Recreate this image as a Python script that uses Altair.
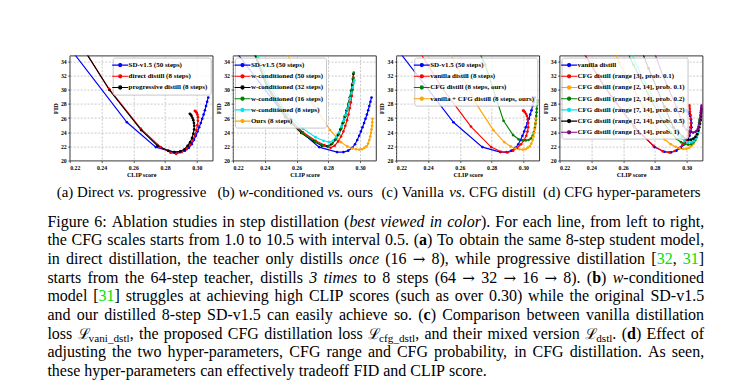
import altair as alt
import pandas as pd

FONT = "Liberation Serif"

# ---------------- data (CLIP score, FID) for CFG scales 1.0 .. 10.5 ----------------
CFG = [1.0, 1.5, 2.0, 2.5, 3.0, 3.5, 4.0, 4.5, 5.0, 5.5, 6.0, 6.5, 7.0, 7.5, 8.0, 8.5, 9.0, 9.5, 10.0, 10.5]
XTICKS = [0.22, 0.24, 0.26, 0.28, 0.30]
YTICKS = [20, 22, 24, 26, 28, 30, 32, 34]

SD15_CLIP = [0.190, 0.222, 0.2560, 0.2742, 0.2855, 0.2895, 0.2925, 0.2950, 0.2968, 0.2982, 0.2994, 0.3005, 0.3015, 0.3025, 0.3034, 0.3043, 0.3051, 0.3058, 0.3065, 0.3072]
SD15_FID = [48.0, 35.3, 25.4, 21.9, 21.2, 21.2, 21.4, 21.8, 22.3, 22.9, 23.5, 24.1, 24.7, 25.3, 25.9, 26.5, 27.1, 27.7, 28.3, 28.9]

DIRECT_CLIP = [0.2150, 0.2448, 0.2647, 0.2773, 0.2835, 0.2870, 0.2905, 0.2935, 0.2958, 0.2975, 0.2988, 0.2998, 0.3004, 0.3007, 0.3007, 0.3004, 0.3000, 0.2996, 0.2992, 0.2988]
DIRECT_FID = [40.5, 30.1, 24.5, 21.9, 21.1, 20.95, 21.2, 21.6, 22.2, 22.9, 23.6, 24.3, 25.0, 25.6, 26.1, 26.45, 26.7, 26.85, 26.95, 27.0]

PROG_CLIP = [0.2155, 0.2450, 0.2650, 0.2753, 0.2820, 0.2860, 0.2895, 0.2922, 0.2942, 0.2958, 0.2970, 0.2978, 0.2983, 0.2984, 0.2982, 0.2978, 0.2973, 0.2967, 0.2961, 0.2956]
PROG_FID = [40.5, 29.95, 24.3, 22.1, 21.4, 21.2, 21.3, 21.6, 22.1, 22.6, 23.2, 23.8, 24.4, 24.9, 25.3, 25.7, 26.0, 26.3, 26.5, 26.6]

W50_CLIP = [0.2250, 0.2420, 0.2534, 0.2640, 0.2720, 0.2775, 0.2815, 0.2840, 0.2862, 0.2880, 0.2895, 0.2907, 0.2918, 0.2927, 0.2935, 0.2942, 0.2948, 0.2953, 0.2956, 0.2958]
W50_FID = [40.0, 30.5, 26.3, 24.0, 22.8, 22.2, 21.8, 22.1, 22.7, 23.4, 24.1, 24.9, 25.7, 26.5, 27.4, 28.2, 29.1, 30.0, 30.9, 31.7]

W32_CLIP = [0.2250, 0.2415, 0.2530, 0.2630, 0.2710, 0.2760, 0.2795, 0.2820, 0.2842, 0.2860, 0.2876, 0.2890, 0.2903, 0.2915, 0.2926, 0.2935, 0.2943, 0.2950, 0.2955, 0.2958]
W32_FID = [40.0, 30.3, 26.1, 23.9, 22.7, 22.1, 22.0, 22.3, 22.9, 23.6, 24.4, 25.3, 26.2, 27.1, 28.0, 28.9, 29.8, 30.7, 31.5, 32.2]

W16_CLIP = [0.2260, 0.2420, 0.2535, 0.2635, 0.2715, 0.2765, 0.2800, 0.2825, 0.2848, 0.2866, 0.2882, 0.2896, 0.2909, 0.2920, 0.2930, 0.2939, 0.2946, 0.2952, 0.2956, 0.2960]
W16_FID = [40.0, 30.2, 26.0, 23.9, 22.7, 22.15, 22.05, 22.4, 23.0, 23.7, 24.5, 25.4, 26.3, 27.2, 28.1, 29.0, 29.9, 30.8, 31.6, 32.4]

W8_CLIP = [0.2260, 0.2425, 0.2540, 0.2640, 0.2720, 0.2770, 0.2805, 0.2830, 0.2850, 0.2867, 0.2882, 0.2896, 0.2908, 0.2919, 0.2929, 0.2938, 0.2946, 0.2953, 0.2959, 0.2964]
W8_FID = [40.5, 30.8, 26.6, 24.5, 23.3, 22.8, 22.6, 22.8, 23.3, 24.0, 24.8, 25.6, 26.4, 27.2, 28.0, 28.8, 29.6, 30.3, 30.9, 31.3]

OURS_CLIP = [0.2320, 0.2530, 0.2697, 0.2811, 0.2880, 0.2920, 0.2950, 0.2975, 0.2995, 0.3012, 0.3027, 0.3040, 0.3050, 0.3058, 0.3064, 0.3068, 0.3072, 0.3075, 0.3077, 0.3078]
OURS_FID = [45.0, 35.5, 28.2, 24.3, 22.6, 22.0, 21.7, 21.6, 21.55, 21.6, 21.8, 22.0, 22.4, 22.9, 23.4, 23.9, 24.4, 24.9, 25.4, 25.9]

VAN_CLIP = [0.2220, 0.2480, 0.2670, 0.2797, 0.2860, 0.2900, 0.2935, 0.2962, 0.2985, 0.3005, 0.3018, 0.3026, 0.3030, 0.3030, 0.3027, 0.3022, 0.3016, 0.3009, 0.3003, 0.2998]
VAN_FID = [40.0, 30.5, 24.8, 21.9, 21.25, 21.15, 21.4, 21.8, 22.3, 22.9, 23.5, 24.1, 24.7, 25.3, 25.8, 26.3, 26.6, 26.85, 27.0, 27.05]

CFGD_CLIP = [0.2620, 0.2760, 0.2875, 0.2935, 0.2970, 0.2995, 0.3015, 0.3032, 0.3047, 0.3058, 0.3066, 0.3072, 0.3076, 0.3079, 0.3081, 0.3083, 0.3084, 0.3085, 0.3086, 0.3087]
CFGD_FID = [40.0, 33.5, 25.6, 23.6, 23.0, 22.85, 22.85, 22.9, 23.1, 23.5, 24.0, 24.6, 25.2, 25.8, 26.3, 26.8, 27.3, 27.8, 28.2, 28.5]

D_R3_CLIP = [0.2220, 0.2480, 0.2670, 0.2791, 0.2850, 0.2890, 0.2925, 0.2952, 0.2975, 0.2993, 0.3007, 0.3017, 0.3023, 0.3026, 0.3026, 0.3024, 0.3021, 0.3019, 0.3017, 0.3016]
D_R3_FID = [40.0, 30.5, 24.7, 22.1, 21.3, 21.15, 21.35, 21.75, 22.3, 22.9, 23.5, 24.1, 24.7, 25.3, 25.9, 26.4, 26.9, 27.3, 27.6, 27.8]

D_A01_CLIP = [0.2400, 0.2575, 0.2728, 0.2812, 0.2860, 0.2900, 0.2930, 0.2955, 0.2978, 0.2998, 0.3015, 0.3030, 0.3042, 0.3053, 0.3062, 0.3068, 0.3074, 0.3078, 0.3081, 0.3083]
D_A01_FID = [43.0, 33.8, 27.5, 24.5, 23.0, 22.3, 21.95, 21.75, 21.65, 21.65, 21.8, 22.05, 22.35, 22.75, 23.2, 23.7, 24.2, 24.7, 25.1, 25.5]

D_A02_CLIP = [0.2460, 0.2665, 0.2775, 0.2853, 0.2900, 0.2937, 0.2965, 0.2990, 0.3010, 0.3028, 0.3042, 0.3054, 0.3063, 0.3069, 0.3073, 0.3076, 0.3078, 0.3079, 0.3080, 0.3081]
D_A02_FID = [43.0, 33.5, 28.6, 25.4, 24.0, 23.05, 22.6, 22.35, 22.25, 22.3, 22.55, 22.9, 23.35, 23.8, 24.3, 24.75, 25.1, 25.4, 25.6, 25.8]

D_B02_CLIP = [0.2480, 0.2690, 0.2800, 0.2885, 0.2925, 0.2958, 0.2985, 0.3010, 0.3030, 0.3045, 0.3057, 0.3066, 0.3072, 0.3077, 0.3080, 0.3083, 0.3085, 0.3086, 0.3087, 0.3088]
D_B02_FID = [44.0, 33.2, 28.3, 25.2, 24.2, 23.3, 22.85, 22.6, 22.6, 22.75, 23.1, 23.5, 24.0, 24.6, 25.1, 25.6, 26.0, 26.35, 26.6, 26.8]

D_A05_CLIP = [0.2550, 0.2760, 0.2860, 0.2916, 0.2950, 0.2975, 0.2995, 0.3012, 0.3028, 0.3042, 0.3055, 0.3065, 0.3073, 0.3079, 0.3084, 0.3088, 0.3090, 0.3092, 0.3093, 0.3094]
D_A05_FID = [45.0, 33.0, 27.6, 24.7, 23.9, 23.4, 23.05, 22.95, 22.95, 23.1, 23.35, 23.7, 24.2, 24.7, 25.2, 25.7, 26.2, 26.7, 27.0, 27.3]

D_C1_CLIP = [0.2620, 0.2850, 0.2937, 0.2979, 0.3000, 0.3021, 0.3040, 0.3055, 0.3063, 0.3070, 0.3075, 0.3079, 0.3083, 0.3086, 0.3088, 0.3090, 0.3091, 0.3092, 0.3093, 0.3094]
D_C1_FID = [46.0, 32.0, 27.5, 24.9, 24.3, 24.0, 23.95, 24.05, 24.2, 24.45, 24.8, 25.2, 25.6, 26.0, 26.4, 26.8, 27.1, 27.35, 27.55, 27.75]

BLUE, RED, BLACK, GREEN, CYAN, ORANGE, PURPLE = "#0000ff", "#ff0000", "#000000", "#008000", "#00e5ee", "#ffa500", "#800080"

PANEL_A = [
    ("SD-v1.5 (50 steps)", BLUE, SD15_CLIP, SD15_FID),
    ("direct distill (8 steps)", RED, DIRECT_CLIP, DIRECT_FID),
    ("progressive distill (8 steps)", BLACK, PROG_CLIP, PROG_FID),
]
PANEL_B = [
    ("SD-v1.5 (50 steps)", BLUE, SD15_CLIP, SD15_FID),
    ("w-conditioned (50 steps)", RED, W50_CLIP, W50_FID),
    ("w-conditioned (32 steps)", BLACK, W32_CLIP, W32_FID),
    ("w-conditioned (16 steps)", GREEN, W16_CLIP, W16_FID),
    ("w-conditioned (8 steps)", CYAN, W8_CLIP, W8_FID),
    ("Ours (8 steps)", ORANGE, OURS_CLIP, OURS_FID),
]
PANEL_C = [
    ("SD-v1.5 (50 steps)", BLUE, SD15_CLIP, SD15_FID),
    ("vanilla distill (8 steps)", RED, VAN_CLIP, VAN_FID),
    ("CFG distill (8 steps, ours)", GREEN, CFGD_CLIP, CFGD_FID),
    ("vanilla + CFG distill (8 steps, ours)", ORANGE, OURS_CLIP, OURS_FID),
]
PANEL_D = [
    ("vanilla distill", BLUE, VAN_CLIP, VAN_FID),
    ("CFG distill (range [3], prob. 0.1)", RED, D_R3_CLIP, D_R3_FID),
    ("CFG distill (range [2, 14], prob. 0.1)", ORANGE, D_A01_CLIP, D_A01_FID),
    ("CFG distill (range [2, 14], prob. 0.2)", GREEN, D_A02_CLIP, D_A02_FID),
    ("CFG distill (range [7, 14], prob. 0.2)", CYAN, D_B02_CLIP, D_B02_FID),
    ("CFG distill (range [2, 14], prob. 0.5)", BLACK, D_A05_CLIP, D_A05_FID),
    ("CFG distill (range [3, 14], prob. 1)", PURPLE, D_C1_CLIP, D_C1_FID),
]

SUBCAPTIONS = [
    [("(a) Direct ", "R"), ("vs.", "I"), (" progressive", "R")],
    [("(b) ", "R"), ("w", "I"), ("-conditioned ", "R"), ("vs.", "I"), (" ours", "R")],
    [("(c) Vanilla ", "R"), ("vs.", "I"), (" CFG distill", "R")],
    [("(d) CFG hyper-parameters", "R")],
]

ARROW = "\u2192"
PARAGRAPH = [
    [("Figure 6: Ablation studies in step distillation (", "r"), ("best viewed in color", "i"), ("). For each line, from left to right,", "r")],
    [("the CFG scales starts from 1.0 to 10.5 with interval 0.5. (", "r"), ("a", "b"), (") To obtain the same 8-step student model,", "r")],
    [("in direct distillation, the teacher only distills ", "r"), ("once", "i"), (" (16 ", "r"), (ARROW, "m"), (" 8), while progressive distillation [", "r"),
     ("32", "g"), (", ", "r"), ("31", "g"), ("]", "r")],
    [("starts from the 64-step teacher, distills ", "r"), ("3 times", "i"), (" to 8 steps (64 ", "r"), (ARROW, "m"), (" 32 ", "r"), (ARROW, "m"),
     (" 16 ", "r"), (ARROW, "m"), (" 8). (", "r"), ("b", "b"), (") ", "r"), ("w", "i"), ("-conditioned", "r")],
    [("model [", "r"), ("31", "g"), ("] struggles at achieving high CLIP scores (such as over 0.30) while the original SD-v1.5", "r")],
    [("and our distilled 8-step SD-v1.5 can easily achieve so. (", "r"), ("c", "b"), (") Comparison between vanilla distillation", "r")],
    [("loss ", "r"), ("\u2112", "m"), ("vani_dstl", "s"), (", the proposed CFG distillation loss ", "r"), ("\u2112", "m"), ("cfg_dstl", "s"),
     (", and their mixed version ", "r"), ("\u2112", "m"), ("dstl", "s"), (". (", "r"), ("d", "b"), (") Effect of", "r")],
    [("adjusting the two hyper-parameters, CFG range and CFG probability, in CFG distillation. As seen,", "r")],
    [("these hyper-parameters can effectively tradeoff FID and CLIP score.", "r")],
]

# ---------------- text typesetting helpers (Times metrics, 1/1000 em) ----------------
REG = {" ": 250, "!": 333, "(": 333, ")": 333, ",": 250, "-": 333, ".": 250, "/": 278, ":": 278, ";": 278,
       "[": 333, "]": 333, "_": 500, "+": 564,
       "A": 722, "B": 667, "C": 667, "D": 722, "E": 611, "F": 556, "G": 722, "H": 722, "I": 333, "J": 389,
       "K": 722, "L": 611, "M": 889, "N": 722, "O": 722, "P": 556, "Q": 722, "R": 667, "S": 556, "T": 611,
       "U": 722, "V": 722, "W": 944, "X": 722, "Y": 722, "Z": 611,
       "a": 444, "b": 500, "c": 444, "d": 500, "e": 444, "f": 333, "g": 500, "h": 500, "i": 278, "j": 278,
       "k": 500, "l": 278, "m": 778, "n": 500, "o": 500, "p": 500, "q": 500, "r": 333, "s": 389, "t": 278,
       "u": 500, "v": 500, "w": 722, "x": 500, "y": 500, "z": 444}
ITAL = dict(REG)
ITAL.update({"a": 500, "f": 278, "k": 444, "m": 722, "r": 389, "v": 444, "w": 667, "x": 444, "y": 444, "z": 389})
BOLD = dict(REG)
BOLD.update({"a": 500, "b": 556, "c": 444, "d": 556})

P_SIZE, SUB_SIZE, SC_SIZE, M_SIZE = 16, 11.2, 14.9, 15
SUB_DY = 3.5
TEXT_X0, TEXT_W = -22.3, 656.8          # paragraph left edge / width, relative to panel (a)
PARA_Y0, PARA_DY = 171.0, 18.7          # first baseline / line pitch, relative to panel (a) top
SC_Y = 141.7
SC_CENTERS = [61.9, 225.5, 388.9, 552.4]


def piece_width(t, st):
    if st == "m":
        return (0.838 * M_SIZE) if t == ARROW else 0.69 * P_SIZE
    if st in ("R", "I"):
        size = SC_SIZE
    elif st == "s":
        size = SUB_SIZE
    else:
        size = P_SIZE
    tab = ITAL if st in ("i", "I") else (BOLD if st == "b" else REG)
    return sum(tab.get(ch, 500) for ch in t) / 1000.0 * size


def split_words(segs):
    words = [[]]
    for text, st in segs:
        parts = text.split(" ")
        for k, p in enumerate(parts):
            if k > 0:
                words.append([])
            if p:
                words[-1].append((p, st))
    return [w for w in words if w]


def place(segs, x0, y, width=None, center=None, size=P_SIZE):
    ws = split_words(segs)
    wds = [sum(piece_width(t, s) for t, s in w) for w in ws]
    if width is not None and len(ws) > 1:
        gap = (width - sum(wds)) / (len(ws) - 1)
    else:
        gap = 0.25 * size
    if center is not None:
        x0 = center - (sum(wds) + gap * (len(ws) - 1)) / 2.0
    rows, x = [], x0
    for w, wd in zip(ws, wds):
        px = x
        for t, s in w:
            rows.append({"x": px, "y": y + (SUB_DY if s == "s" else 0.0), "text": t, "style": s})
            px += piece_width(t, s)
        x += wd + gap
    return rows


text_rows = []
for i, segs in enumerate(SUBCAPTIONS):
    text_rows += place(segs, 0, SC_Y, center=SC_CENTERS[i], size=SC_SIZE)
for i, segs in enumerate(PARAGRAPH):
    last = i == len(PARAGRAPH) - 1
    text_rows += place(segs, TEXT_X0, PARA_Y0 + i * PARA_DY, width=None if last else TEXT_W)
TEXT_DF = pd.DataFrame(text_rows)

STYLE_PROPS = {
    "r": dict(fontSize=P_SIZE),
    "i": dict(fontSize=P_SIZE, fontStyle="italic"),
    "b": dict(fontSize=P_SIZE, fontWeight="bold"),
    "g": dict(fontSize=P_SIZE, color="#00dd00"),
    "s": dict(fontSize=SUB_SIZE),
    "m": dict(fontSize=M_SIZE, font="DejaVu Serif"),
    "R": dict(fontSize=SC_SIZE),
    "I": dict(fontSize=SC_SIZE, fontStyle="italic"),
}

PW, PH = 143, 105


def text_layers():
    layers = []
    for st, props in STYLE_PROPS.items():
        sub = TEXT_DF[TEXT_DF["style"] == st]
        if sub.empty:
            continue
        kw = dict(align="left", baseline="alphabetic", font=FONT, color="black")
        kw.update(props)
        layers.append(
            alt.Chart(sub).mark_text(**kw).encode(
                x=alt.X("x:Q", scale=alt.Scale(domain=[0, PW], nice=False, zero=False), axis=None),
                y=alt.Y("y:Q", scale=alt.Scale(domain=[0, PH], reverse=True, nice=False, zero=False), axis=None),
                text="text:N",
            )
        )
    return layers


LEGEND_SYMBOL = "M-2,0H2M0.4,0A0.4,0.4,0,1,1,-0.4,0A0.4,0.4,0,1,1,0.4,0"

AXIS_STYLE = dict(
    labelFont=FONT, labelFontSize=5.8, labelFontWeight="bold", labelColor="black",
    titleFont=FONT, titleFontSize=6.2, titleFontWeight="bold", titleColor="black",
    tickSize=2, tickColor="black", tickWidth=0.6,
    labelPadding=1.5, titlePadding=2, domain=False, gridColor="#a8a8a8", gridDash=[2, 1.5],
    gridWidth=0.6, gridOpacity=1,
)


def panel(series, orient):
    rows = []
    for name, _c, xs, ys in series:
        for c, x, y in zip(CFG, xs, ys):
            rows.append({"series": name, "cfg": c, "clip": x, "fid": y})
    df = pd.DataFrame(rows)
    names = [s[0] for s in series]
    colors = [s[1] for s in series]
    xenc = alt.X("clip:Q", scale=alt.Scale(domain=[0.22, 0.31], nice=False, zero=False),
                 axis=alt.Axis(values=XTICKS, format=".2f", title="CLIP score", **AXIS_STYLE))
    yenc = alt.Y("fid:Q", scale=alt.Scale(domain=[20, 34.8], nice=False, zero=False),
                 axis=alt.Axis(values=YTICKS, title="FID", **AXIS_STYLE))
    legend = alt.Legend(
        title=None, orient=orient, offset=2, fillColor="rgba(255,255,255,0.82)", strokeColor="#c8c8c8",
        cornerRadius=2, padding=2.5, labelFont=FONT, labelFontSize=7, labelFontWeight="bold",
        labelColor="black", labelLimit=300,
        symbolType=LEGEND_SYMBOL, symbolSize=64, symbolStrokeWidth=1.1, labelOffset=3.4, rowPadding=2.2,
    )
    line = alt.Chart(df).mark_line(clip=True, strokeWidth=1.15).encode(
        x=xenc, y=yenc,
        color=alt.Color("series:N", scale=alt.Scale(domain=names, range=colors), legend=legend),
        order=alt.Order("cfg:Q"),
    )
    pts = alt.Chart(df).mark_point(clip=True, filled=True, size=7, opacity=1, strokeWidth=0).encode(
        x=xenc, y=yenc,
        fill=alt.Fill("series:N", scale=alt.Scale(domain=names, range=colors), legend=None),
    )
    return alt.layer(line, pts)


pa = alt.layer(panel(PANEL_A, "top-right"), *text_layers()).resolve_scale(x="independent", y="independent").properties(width=PW, height=PH)
pb = panel(PANEL_B, "top-left").properties(width=PW, height=PH)
pc = panel(PANEL_C, "top-right").properties(width=PW, height=PH)
pd_ = panel(PANEL_D, "top-left").properties(width=PW, height=PH)

chart = alt.hconcat(pa, pb, pc, pd_, spacing=20.3, bounds="flush").resolve_scale(
    color="independent", fill="independent"
).properties(
    padding={"left": 38.7, "top": 46.6, "right": 2, "bottom": 2},
    background="white",
).configure_view(
    stroke="black", strokeWidth=0.8
).configure_axis(**AXIS_STYLE)

chart.save("out.html", embed_options={"renderer": "svg", "actions": False})
